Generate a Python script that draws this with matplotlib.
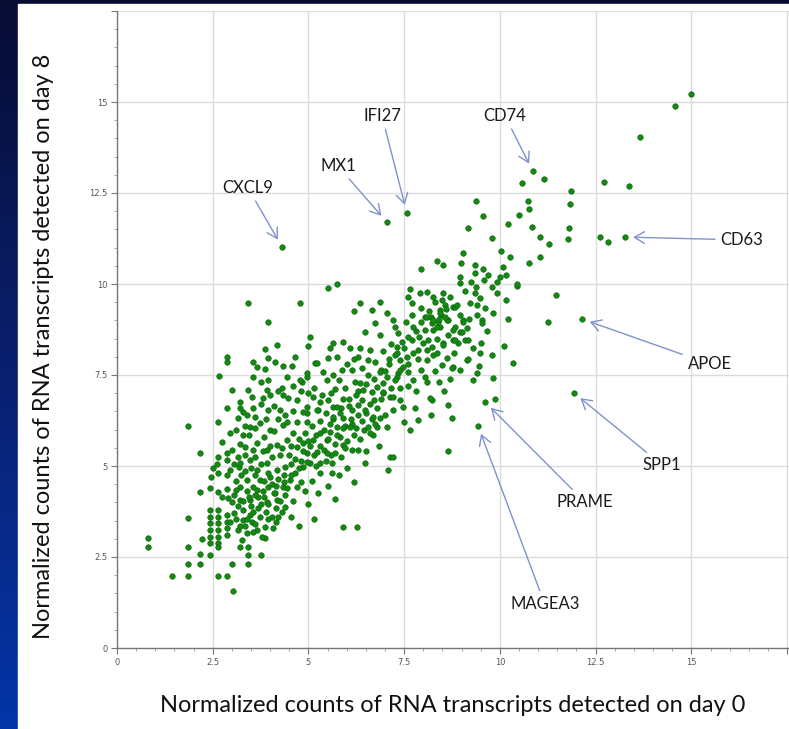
import numpy as np
import matplotlib.pyplot as plt
from matplotlib.patches import Rectangle
from matplotlib.colors import LinearSegmentedColormap

# Conteos normalizados (dia 0, dia 8)
low_counts = [
    (0.81, 3.02), (0.81, 2.77), (1.44, 1.98), (1.85, 1.98), (1.85, 2.31), (1.85, 2.77),
    (1.85, 3.57), (1.85, 6.10), (2.17, 5.36), (2.17, 4.29), (2.22, 2.99), (2.17, 2.58),
    (2.17, 2.31), (2.43, 2.55), (2.64, 1.98), (2.87, 1.98), (3.00, 2.31), (3.42, 2.55),
    (3.42, 2.31), (3.76, 2.55), (3.03, 1.57), (3.21, 2.77), (3.42, 2.77), (3.86, 3.02),
    (4.07, 3.30), (2.43, 3.79), (2.43, 3.60), (2.43, 3.43), (2.43, 3.24), (2.43, 3.05),
    (2.43, 2.88), (2.64, 3.79), (2.64, 3.60), (2.64, 3.43), (2.64, 3.24), (2.64, 3.05),
    (2.64, 2.88), (2.64, 2.77), (2.87, 3.65), (2.87, 3.46), (2.87, 3.30), (2.87, 3.10),
    (2.64, 5.25), (2.87, 5.36), (2.87, 5.16), (3.16, 5.25), (2.64, 4.81), (2.87, 4.75),
    (2.95, 4.89), (3.19, 4.97), (2.43, 4.40), (2.64, 4.29), (2.87, 4.37), (2.90, 4.12),
    (5.90, 3.32), (6.27, 3.32), (5.15, 3.55), (4.75, 3.35), (4.15, 3.45), (4.55, 3.60),
]

core = [
    (3.29, 5.85), (3.47, 6.07), (3.73, 6.18), (3.99, 5.99), (4.33, 6.13), (4.60, 5.91),
    (3.34, 5.52), (3.66, 5.63), (3.92, 5.44), (4.18, 5.58), (4.44, 5.71), (4.70, 5.52),
    (3.21, 5.08), (3.47, 5.16), (3.66, 4.89), (3.92, 5.08), (4.18, 4.89), (4.39, 4.97),
    (4.65, 4.81), (3.21, 4.42), (3.39, 4.62), (3.55, 4.42), (3.73, 4.62), (3.94, 4.42),
    (4.13, 4.26), (4.33, 4.42), (4.52, 4.62), (4.70, 4.42), (3.21, 4.07), (3.47, 4.07),
    (3.68, 4.15), (3.92, 4.01), (4.18, 4.07), (4.39, 3.87), (3.29, 3.79), (3.47, 3.65),
    (3.68, 3.85), (3.29, 3.52), (3.52, 3.46), (3.73, 3.60), (3.86, 3.32), (3.16, 3.24),
    (3.39, 3.16), (3.66, 3.24), (3.79, 3.05), (3.26, 2.97),
    (3.10, 4.60), (3.05, 4.20), (3.15, 3.90), (3.40, 4.30), (3.60, 4.75), (3.80, 4.30),
    (4.00, 4.70), (4.05, 5.25), (4.25, 5.30), (4.50, 5.30), (4.55, 5.05), (4.80, 5.15),
    (4.75, 5.75), (4.90, 5.90), (4.45, 6.20), (4.20, 6.30), (4.10, 5.95), (3.85, 5.80),
    (3.55, 5.45), (3.45, 5.85), (3.20, 5.60), (3.00, 5.45), (3.10, 6.00), (3.60, 6.35),
    (3.95, 6.55), (4.60, 6.50), (4.95, 6.20), (5.10, 6.10), (5.30, 6.25), (5.45, 6.45),
    (5.05, 5.55), (5.40, 5.45), (5.70, 5.60), (5.60, 5.30), (5.85, 5.25), (6.00, 5.70),
    (3.35, 6.10), (2.95, 5.90), (2.75, 5.65), (2.60, 5.05), (2.50, 4.95), (2.45, 4.70),
    (2.75, 4.15), (3.00, 4.00), (3.05, 3.70), (2.95, 3.45), (3.20, 3.35), (3.50, 3.90),
    (3.60, 4.20), (3.90, 3.75), (4.05, 3.60), (4.30, 3.75), (4.40, 4.20), (4.60, 4.05),
    (4.80, 4.55), (4.90, 4.30), (5.10, 4.60), (5.00, 3.95), (5.25, 4.25), (5.50, 4.45),
    (5.80, 4.75), (6.00, 4.95), (6.15, 5.45), (6.35, 5.75), (6.20, 4.55), (5.70, 4.10),
    (4.86, 5.63), (4.96, 5.36), (5.22, 5.38), (5.48, 5.36), (5.04, 5.08), (5.30, 5.08),
    (5.61, 5.08), (5.30, 4.81), (5.61, 4.81), (4.86, 4.97), (6.48, 5.08), (7.13, 5.25),
    (7.21, 5.25), (7.08, 4.89), (6.29, 5.44), (5.12, 5.71), (5.30, 5.91), (5.48, 5.71),
    (5.90, 5.58), (5.82, 5.80), (5.56, 5.93),
]

core_extra = [
    (3.35, 4.85), (3.50, 4.95), (3.75, 5.05), (3.85, 4.60), (4.05, 4.50), (4.20, 4.65),
    (4.35, 4.75), (3.95, 4.80), (3.65, 4.35), (3.45, 4.15), (3.85, 4.15), (4.10, 4.25),
    (4.25, 4.05), (4.45, 4.40), (3.55, 3.75), (3.75, 3.95), (3.95, 3.95), (4.15, 3.85),
    (3.40, 3.55), (3.60, 3.40), (3.95, 3.55), (4.20, 3.60), (3.10, 3.55), (3.35, 3.35),
    (3.55, 3.20), (3.10, 4.35), (3.30, 4.05), (3.25, 4.75), (3.05, 5.05), (3.35, 5.30),
    (3.60, 5.25), (3.80, 5.40), (4.00, 5.55), (4.30, 5.50), (4.55, 5.55), (4.65, 5.20),
    (4.85, 5.40), (5.00, 5.70), (5.20, 5.85), (5.40, 6.00), (5.65, 6.30), (5.85, 6.60),
    (6.05, 6.85), (6.30, 7.05), (6.50, 7.25), (6.70, 7.40), (6.90, 7.65), (7.10, 7.95),
    (7.30, 8.10), (7.50, 8.25), (7.70, 8.45), (7.90, 8.55), (8.05, 8.75), (8.20, 9.10),
    (8.45, 9.15), (8.65, 8.60), (8.35, 8.50), (8.10, 8.20), (7.85, 7.95), (7.60, 7.80),
    (7.35, 7.55), (7.15, 7.15), (6.95, 7.00), (6.70, 6.80), (6.50, 6.45), (6.30, 6.40),
    (6.15, 6.15), (5.95, 6.10), (5.75, 5.85), (5.50, 5.75), (5.30, 5.55), (5.15, 5.30),
    (4.95, 5.10), (4.75, 4.95), (4.55, 4.75), (4.35, 4.55), (4.15, 4.45), (5.20, 5.00),
    (5.45, 5.15), (5.70, 5.35), (5.95, 5.50), (6.20, 5.85), (6.45, 6.00), (6.65, 6.30),
    (4.40, 6.40), (4.70, 6.20), (4.95, 6.45), (5.25, 6.55), (4.10, 6.65), (3.75, 6.70),
    (3.40, 6.40), (3.60, 6.05), (3.90, 6.30),
]

mid_band = [
    (3.42, 9.48), (4.78, 9.48), (3.94, 8.96), (5.51, 9.89), (5.74, 10.0), (5.04, 8.54),
    (4.99, 8.30), (4.18, 8.32), (3.86, 8.21), (3.94, 7.97), (4.13, 7.86), (4.33, 7.75),
    (4.65, 7.99), (4.57, 7.75), (3.55, 7.86), (3.66, 7.72), (3.86, 7.66), (2.66, 7.47),
    (5.17, 7.83), (4.96, 7.45), (4.83, 7.31), (3.94, 7.36), (3.00, 7.09), (3.42, 7.09),
    (3.92, 7.09), (3.99, 6.95), (3.81, 6.87), (4.31, 7.14), (4.33, 6.95), (3.21, 6.76),
    (3.52, 6.90), (4.46, 6.87), (4.70, 6.81), (5.12, 6.90), (5.64, 6.62), (2.87, 6.59),
    (3.21, 6.59), (3.29, 6.48), (3.55, 6.59), (4.26, 6.54), (4.86, 6.48), (2.64, 6.21),
    (3.16, 6.32), (2.87, 7.99), (2.87, 7.86),
    (6.34, 9.48), (6.87, 9.51), (6.19, 9.26), (6.66, 9.29), (7.05, 9.20), (7.21, 9.01),
    (7.26, 8.82), (6.74, 8.93), (6.48, 8.68), (6.87, 8.60), (5.64, 8.38), (5.90, 8.41),
    (6.08, 8.24), (6.34, 8.24), (6.61, 8.19), (6.29, 7.99), (6.55, 7.91), (5.56, 8.24),
    (5.74, 7.99), (5.51, 7.97), (5.22, 7.83), (5.38, 7.58), (5.87, 7.64), (6.14, 7.64),
    (5.64, 7.50), (4.96, 7.55), (4.78, 7.36), (5.48, 7.36), (5.95, 7.14), (6.21, 7.31),
    (6.34, 7.28), (6.42, 7.09), (5.69, 7.12), (5.51, 6.81), (4.96, 6.62), (5.22, 6.54),
    (5.74, 6.62), (5.82, 6.46), (5.64, 6.35), (5.90, 6.32), (6.14, 6.54), (6.29, 6.68),
    (6.40, 6.81), (6.48, 6.54), (6.68, 6.35), (6.87, 6.32), (7.05, 6.07), (6.79, 6.07),
    (6.55, 6.07), (6.68, 5.85), (6.08, 6.07), (5.90, 6.04), (5.74, 6.07), (7.31, 8.27),
    (7.39, 7.91), (7.57, 7.99), (7.73, 8.10), (7.86, 8.19), (7.99, 8.38), (8.12, 8.46),
    (8.22, 8.27), (7.39, 7.64), (7.47, 7.72), (7.60, 7.58), (7.31, 7.45), (7.05, 7.45),
    (6.87, 7.58), (6.95, 7.28), (6.79, 7.17), (6.66, 7.03), (6.95, 7.03), (7.13, 6.90),
    (7.39, 6.81), (7.47, 6.62), (7.21, 6.54), (8.04, 7.45), (8.09, 7.31), (7.73, 7.36),
    (8.22, 6.81), (7.78, 6.59), (7.86, 6.26),
    (6.10, 6.30), (6.25, 6.05), (6.40, 6.25), (6.60, 6.70), (6.80, 6.60), (6.90, 6.85),
    (7.00, 7.60), (7.10, 7.80), (7.25, 8.05), (7.45, 8.40), (7.60, 8.55), (7.80, 8.70),
    (7.95, 8.95), (8.15, 9.25), (8.30, 9.50), (7.70, 9.15), (7.55, 8.95), (7.35, 8.65),
    (7.15, 8.35), (6.95, 8.15), (6.75, 7.85), (6.55, 7.50), (6.40, 7.70), (6.20, 7.95),
    (6.00, 7.80), (5.80, 7.35), (5.60, 7.00), (5.35, 6.95), (5.15, 7.15), (5.00, 7.00),
    (4.80, 7.05), (4.60, 7.20), (4.45, 7.45), (4.20, 7.05), (3.75, 7.30), (3.55, 7.45),
    (6.60, 5.90), (6.75, 6.15), (7.00, 6.40), (7.20, 6.90), (7.40, 7.15), (7.60, 7.20),
    (7.80, 7.05), (7.95, 7.65), (8.10, 7.90), (8.30, 7.60), (8.40, 7.30), (8.55, 7.05),
    (8.70, 7.40), (7.25, 7.35), (6.25, 6.95), (6.05, 6.65), (5.90, 6.85), (5.30, 6.75),
    (5.55, 6.15), (6.85, 5.55), (6.50, 5.40), (7.50, 6.20), (7.65, 6.00), (8.20, 6.40),
]

upper_band = [
    (8.04, 9.09), (8.22, 8.93), (8.43, 8.82), (8.64, 9.01), (8.83, 8.82), (8.96, 8.68),
    (9.14, 8.79), (8.51, 8.38), (8.77, 8.46), (8.90, 8.38), (9.09, 8.46), (8.25, 8.05),
    (8.62, 7.97), (8.77, 7.72), (9.14, 7.91), (8.43, 9.29), (8.56, 9.42), (8.77, 9.37),
    (8.96, 9.15), (9.35, 9.75), (9.48, 9.62), (9.92, 9.75), (10.16, 9.56), (8.51, 9.75),
    (8.49, 9.56), (8.83, 9.37), (9.22, 9.48), (9.40, 9.15), (9.82, 9.20), (9.53, 9.01),
    (7.60, 9.64), (7.70, 9.48), (7.91, 9.75), (8.09, 9.78), (8.09, 9.09), (8.25, 9.01),
    (8.43, 9.20), (8.62, 9.01), (9.03, 9.01), (7.73, 8.82), (8.36, 8.82), (8.77, 8.74),
    (10.10, 8.30), (10.34, 7.83), (9.82, 7.42), (9.30, 7.36), (9.40, 7.55), (8.64, 6.68),
    (8.75, 6.32), (8.64, 5.41), (8.17, 6.87), (9.50, 8.38), (9.48, 8.10), (9.16, 7.94),
    (8.75, 7.69), (8.49, 7.77), (9.53, 8.93), (9.40, 9.42), (9.03, 8.96), (9.16, 8.46),
    (8.83, 8.46), (8.51, 8.32), (8.36, 8.10), (9.01, 8.68), (8.56, 9.09), (8.38, 8.96),
    (8.25, 8.74), (8.88, 9.42), (9.87, 6.84),
    (8.40, 9.05), (8.60, 9.30), (8.25, 9.65), (7.95, 9.35), (7.65, 9.85), (8.70, 9.65),
    (9.10, 9.80), (9.25, 10.05), (9.55, 10.40), (9.70, 10.25), (9.60, 9.35), (9.20, 9.05),
    (10.20, 9.05), (10.45, 9.95), (9.65, 8.70), (9.80, 8.05), (9.45, 7.75), (9.30, 8.25),
    (8.95, 7.65), (8.80, 8.10),
    (10.57, 12.77), (11.15, 12.88), (10.73, 12.28), (10.76, 12.06), (10.50, 11.90),
    (9.37, 12.28), (9.56, 11.87), (9.16, 11.54), (10.21, 11.65), (10.84, 11.57),
    (11.04, 11.29), (11.28, 11.10), (11.04, 10.74), (10.76, 10.58), (9.79, 11.26),
    (10.03, 10.91), (10.26, 10.74), (9.03, 10.85), (8.98, 10.58), (8.36, 10.63),
    (8.51, 10.52), (7.94, 10.41), (9.35, 10.52), (9.35, 10.30), (8.96, 10.19),
    (8.96, 10.03), (10.08, 10.47), (10.16, 10.25), (10.0, 10.19), (9.58, 10.11),
    (9.37, 9.92), (9.92, 10.05), (9.79, 9.92), (10.44, 10.0), (11.46, 9.70), (11.25, 8.96),
    (11.85, 12.55), (11.83, 12.20), (11.80, 11.54), (11.78, 11.24), (12.61, 11.29),
    (12.82, 11.15), (12.72, 12.80), (13.37, 12.69), (13.66, 14.04), (14.57, 14.89),
    (14.99, 15.22),
]

# Genes destacados
gene_names = ['CXCL9', 'MX1', 'IFI27', 'CD74', 'CD63', 'APOE', 'SPP1', 'PRAME', 'MAGEA3']
gene_day0 = [4.31, 7.05, 7.57, 10.86, 13.26, 12.14, 11.93, 9.61, 9.43]
gene_day8 = [11.02, 11.70, 11.95, 13.10, 11.29, 9.04, 7.01, 6.76, 6.10]
label_pos = [(3.42, 12.64), (5.77, 13.24), (6.92, 14.62), (10.13, 14.62), (16.32, 11.21),
             (15.48, 7.80), (14.23, 5.03), (12.22, 4.01), (11.17, 1.21)]

all_pts = np.array(low_counts + core + core_extra + mid_band + upper_band)

fig = plt.figure(figsize=(7.89, 7.29), dpi=100)

# fondo azul tipo diapositiva
bg = fig.add_axes([0, 0, 1, 1], zorder=-10)
grad = np.linspace(0, 1, 256).reshape(-1, 1)
cmap_bg = LinearSegmentedColormap.from_list('bg', ['#070c33', '#0a1f6e', '#0435a8'])
bg.imshow(grad, aspect='auto', cmap=cmap_bg, extent=[0, 1, 0, 1], origin='upper')
bg.add_patch(Rectangle((18 / 789, 0), 1, 1 - 4 / 729, color='white', transform=bg.transAxes))
bg.set_xlim(0, 1)
bg.set_ylim(0, 1)
bg.axis('off')

ax = fig.add_axes([117 / 789, 81 / 729, 1 - 117 / 789, 637 / 729])
ax.set_facecolor('white')
ax.scatter(all_pts[:, 0], all_pts[:, 1], s=16, color='#128a12', edgecolors='#0b5e0b',
           linewidths=0.4, zorder=3)
ax.scatter(gene_day0, gene_day8, s=16, color='#128a12', edgecolors='#0b5e0b',
           linewidths=0.4, zorder=3)

ax.set_xlim(0, 17.55)
ax.set_ylim(0, 17.5)
ticks = [0, 2.5, 5, 7.5, 10, 12.5, 15, 17.5]
labels = ['0', '2.5', '5', '7.5', '10', '12.5', '15', '']
ax.set_xticks(ticks)
ax.set_xticklabels(labels)
ax.set_yticks(ticks)
ax.set_yticklabels(labels)
ax.set_xticks(np.arange(0, 17.6, 0.5), minor=True)
ax.set_yticks(np.arange(0, 17.6, 0.5), minor=True)
ax.tick_params(which='major', length=4, width=0.8, color='#777777', labelsize=6,
               labelcolor='#555555', pad=3)
ax.tick_params(which='minor', length=2, width=0.6, color='#999999')
ax.grid(True, which='major', color='#dcdcdc', lw=1.0, zorder=0)
for s in ['top', 'right']:
    ax.spines[s].set_visible(False)
for s in ['left', 'bottom']:
    ax.spines[s].set_color('#777777')
    ax.spines[s].set_linewidth(1.0)

for name, x, y, pos in zip(gene_names, gene_day0, gene_day8, label_pos):
    ax.annotate(name, xy=(x, y), xytext=pos, ha='center', va='center', fontsize=12,
                family='Lato', color='#1a1a1a', annotation_clip=False,
                arrowprops=dict(arrowstyle='->,head_length=0.6,head_width=0.35',
                                color='#7f93cc', lw=1.0, shrinkA=2, shrinkB=6))

fig.text(453 / 789, 1 - 705 / 729, 'Normalized counts of RNA transcripts detected on day 0',
         ha='center', va='center', fontsize=17, family='Lato', color='#111111')
fig.text(44 / 789, 1 - 346 / 729, 'Normalized counts of RNA transcripts detected on day 8',
         ha='center', va='center', rotation=90, fontsize=17, family='Lato', color='#111111')

plt.savefig('out.png', dpi=100)
